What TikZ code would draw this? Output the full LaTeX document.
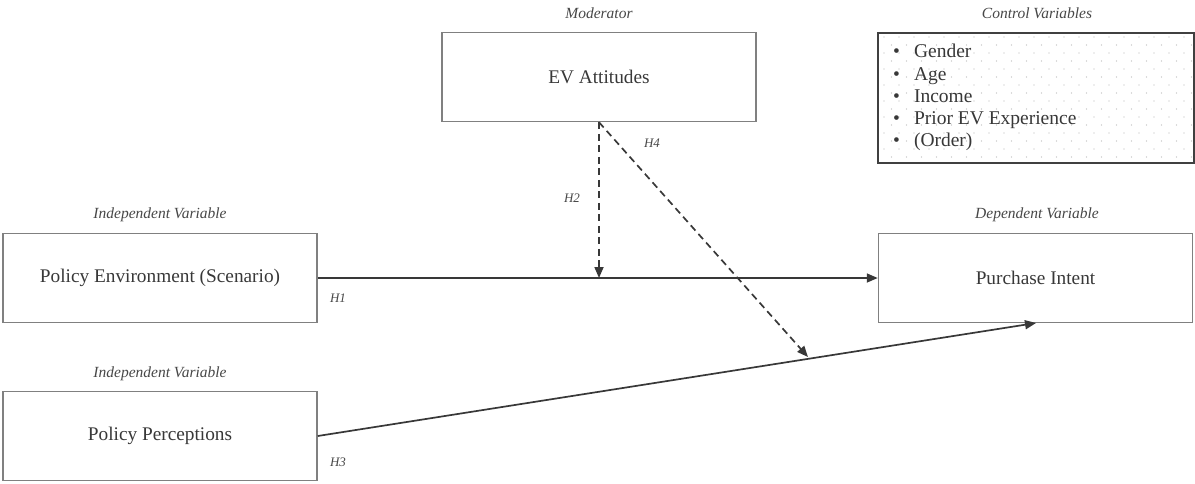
\documentclass[tikz,border=0pt]{standalone}
\usepackage{fontspec}
\setmainfont{Liberation Serif}
\usetikzlibrary{arrows.meta}
\begin{document}
\begin{tikzpicture}[x=1pt,y=-1pt,
  box/.style={draw=black!50,line width=1.5pt,minimum width=314pt,minimum height=89pt,inner sep=0pt,font=\fontsize{19.3}{22}\selectfont,text=black!78},
  tag/.style={font=\fontsize{15.5}{17}\selectfont\itshape,text=black!72},
  hlab/.style={font=\fontsize{13}{14}\selectfont\itshape,text=black!72},
  conn/.style={draw=black!78,line width=1.7pt,-{Triangle[length=11pt,width=9pt]}},
  dconn/.style={conn,dashed,dash pattern=on 7pt off 4.5pt}]
\useasboundingbox (0,0) rectangle (1195,483);
% boxes
\node[box] (ev) at (599,77) {EV Attitudes};
\node[box] (pe) at (160,278) {Policy Environment (Scenario)};
\node[box] (pp) at (160,436) {Policy Perceptions};
\node[box] (pi) at (1035.5,278) {Purchase Intent};
% control box with dots
\fill[white] (878,33) rectangle (1194,163);
\foreach \r in {0,...,15}{
  \pgfmathsetmacro{\yy}{37+\r*8}
  \pgfmathsetmacro{\off}{mod(\r,2)*7.5}
  \foreach \c in {0,...,20}{
    \fill[black!28] ({884+\off+\c*15},\yy) circle (0.7pt);
  }
}
\node[draw=black!75,line width=2pt,minimum width=316pt,minimum height=130pt,inner sep=0pt] (cv) at (1036,98) {};
\node[anchor=north west,align=left,inner sep=0pt,font=\fontsize{19.5}{22.3}\selectfont,text=black!78] (cvlist) at (893,44)
  {\textbullet\hspace{14pt}Gender\\ \textbullet\hspace{14pt}Age\\ \textbullet\hspace{14pt}Income\\ \textbullet\hspace{14pt}Prior EV Experience\\ \textbullet\hspace{14pt}(Order)};
% tags
\node[tag] (tev) at (599,13) {Moderator};
\node[tag] (tcv) at (1037,13) {Control Variables};
\node[tag] (tpe) at (160,215) {Independent Variable};
\node[tag] (tpp) at (160,374) {Independent Variable};
\node[tag] (tpi) at (1037,215) {Dependent Variable};
% connectors
\coordinate (mid) at (599,278);
\coordinate (h4end) at (808,357);
\coordinate (h3end) at (1036,323);
\draw[conn] (pe.east) -- (pi.west);
\draw[dconn] (ev.south) -- (mid);
\draw[dconn] (ev.south) -- (h4end);
\draw[conn] (pp.east) -- (h3end);
% hypothesis labels
\node[hlab] (h1) at (338,298) {H1};
\node[hlab] (h2) at (572,198) {H2};
\node[hlab] (h4) at (652,143) {H4};
\node[hlab] (h3) at (338,462) {H3};
\end{tikzpicture}
\end{document}
